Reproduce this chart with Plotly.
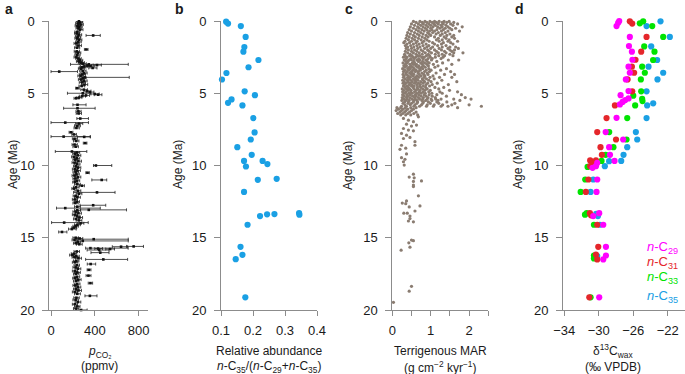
import plotly.graph_objects as go

W, H = 685, 374
FONT = "Liberation Sans, Arial, Helvetica, sans-serif"

# ---------------- panel a : pCO2 (age, value, bar low, bar high) ----------------
a_age = [0.02, 0.1, 0.18, 0.25, 0.33, 0.4, 0.5, 0.6, 0.75, 0.85, 0.95, 1.0, 1.08, 1.2, 1.3, 1.45,
         1.55, 1.7, 1.85, 1.97, 2.1, 2.2, 2.35, 2.5, 2.6, 2.72, 2.8, 2.88, 2.95, 3.0, 3.05, 3.08,
         3.12, 3.15, 3.2, 3.25, 3.3, 3.45, 3.5, 3.6, 3.7, 3.8, 3.9, 3.95, 4.05, 4.15, 4.25, 4.4,
         4.5, 4.65, 4.75, 4.85, 4.92, 5.0, 5.05, 5.1, 5.15, 5.2, 5.3, 5.35, 5.8, 6.04, 6.25, 6.4,
         6.75, 7.03, 7.1, 7.25, 7.4, 7.7, 7.85, 8.0, 8.02, 8.15, 8.3, 8.45, 8.55, 8.7, 9.03, 9.1,
         9.2, 9.3, 9.4, 9.5, 9.6, 9.7, 9.8, 9.9, 10.0, 10.05, 10.15, 10.25, 10.35, 10.45, 10.5,
         10.6, 10.7, 10.8, 10.9, 11.0, 11.05, 11.15, 11.3, 11.4, 11.5, 11.6, 11.75, 11.86, 11.95,
         12.1, 12.2, 12.35, 12.5, 12.6, 12.75, 12.85, 12.95, 13.07, 13.1, 13.2, 13.3, 13.4, 13.5,
         13.6, 13.7, 13.8, 13.95, 14.0, 14.1, 14.2, 14.3, 14.4, 14.6, 15.0, 15.05, 15.1, 15.15,
         15.22, 15.3, 15.38, 15.45, 15.6, 15.62, 15.72, 15.75, 15.78, 15.85, 15.95, 16.03, 16.1,
         16.2, 16.28, 16.35, 16.42, 16.5, 16.6, 16.7, 16.82, 16.9, 17.05, 17.15, 17.22, 17.3,
         17.4, 17.5, 17.62, 17.7, 17.8, 17.9, 18.0, 18.14, 18.2, 18.3, 18.42, 18.55, 18.65,
         18.75, 18.88, 19.02, 19.15, 19.3, 19.45, 19.6, 19.75, 19.9, 20.0]
a_pco2 = [255, 262, 248, 270, 242, 258, 250, 265, 240, 236, 252, 385, 245, 240, 255, 248,
          232, 250, 238, 322, 235, 245, 240, 232, 250, 262, 255, 275, 290, 345, 420, 335,
          360, 300, 285, 380, 275, 290, 75, 300, 285, 270, 310, 290, 275, 300, 285, 305,
          280, 240, 300, 330, 355, 290, 400, 430, 320, 285, 255, 230, 242, 242, 250, 252,
          267, 130, 255, 240, 232, 182, 210, 115, 303, 215, 230, 312, 215, 225, 191, 235,
          220, 245, 210, 235, 222, 250, 215, 238, 410, 228, 245, 218, 240, 225, 333,
          232, 215, 245, 222, 463, 235, 220, 240, 282, 228, 210, 245, 420, 255,
          225, 240, 218, 235, 222, 385, 240, 130, 345, 240, 225, 250, 218, 238,
          260, 228, 255, 120, 270, 240, 225, 210, 190, 100, 225, 262, 390, 215,
          290, 245, 228, 258, 755, 640, 360, 430, 540, 440, 235, 450, 210,
          195, 230, 215, 250, 478, 230, 220, 362, 235, 225, 245, 346, 218,
          240, 228, 342, 235, 220, 248, 230, 360, 238, 222, 245, 228, 250,
          218, 240, 355, 232, 225, 245, 218, 240, 228, 275]
a_low = [230, 240, 225, 250, 220, 235, 228, 245, 218, 215, 228, 320, 222, 218, 232, 225,
         210, 228, 215, 305, 212, 222, 218, 210, 226, 240, 232, 250, 262, 178, 385, 300,
         322, 270, 258, 345, 250, 262, 0, 272, 258, 245, 285, 262, 250, 272, 258, 278,
         255, 225, 272, 300, 320, 150, 365, 395, 290, 258, 230, 210, 200, 115, 228, 230,
         236, 0, 225, 215, 210, 165, 190, 0, 240, 195, 205, 295, 192, 200, 39, 210,
         198, 220, 188, 210, 200, 225, 192, 212, 388, 205, 220, 195, 215, 200, 318,
         208, 192, 220, 200, 373, 210, 198, 215, 260, 205, 190, 218, 206, 230,
         202, 215, 195, 210, 200, 265, 215, 50, 270, 215, 200, 225, 195, 212,
         235, 205, 230, 5, 245, 215, 200, 190, 160, 70, 200, 235, 250, 192,
         236, 220, 205, 232, 690, 560, 316, 400, 500, 330, 210, 365, 185,
         170, 205, 192, 225, 316, 205, 195, 331, 210, 200, 220, 330, 195,
         215, 205, 320, 210, 198, 222, 205, 340, 212, 200, 220, 205, 225,
         195, 215, 310, 208, 200, 220, 195, 215, 205, 230]
a_high = [285, 290, 275, 295, 268, 285, 276, 292, 265, 260, 280, 450, 272, 268, 282, 276,
          258, 278, 262, 338, 260, 272, 266, 258, 276, 290, 285, 305, 322, 706, 460, 372,
          400, 335, 318, 420, 305, 320, 242, 330, 315, 300, 715, 320, 305, 330, 315, 335,
          308, 258, 332, 365, 392, 360, 440, 465, 352, 315, 282, 255, 320, 403, 275, 278,
          342, 342, 290, 268, 258, 200, 232, 358, 360, 240, 255, 328, 240, 250, 327, 262,
          245, 272, 235, 262, 248, 278, 240, 265, 555, 255, 272, 242, 268, 250, 350,
          258, 240, 272, 248, 509, 262, 245, 268, 305, 255, 235, 272, 585, 282,
          250, 268, 242, 260, 248, 500, 268, 450, 690, 268, 250, 278, 242, 265,
          288, 255, 282, 340, 300, 268, 250, 235, 230, 145, 250, 290, 706, 240,
          706, 270, 252, 285, 845, 700, 705, 470, 580, 530, 260, 530, 235,
          220, 258, 240, 278, 700, 255, 245, 408, 260, 250, 272, 365, 242,
          268, 255, 365, 262, 245, 275, 255, 380, 265, 248, 272, 255, 278,
          242, 268, 420, 258, 250, 272, 242, 265, 255, 330]

# ---------------- panel b : relative abundance ----------------
b_age = [0.05, 0.18, 0.35, 1.1, 1.8, 2.12, 2.7, 3.2, 3.6, 4.05, 4.87, 5.13, 5.43, 5.66, 5.84,
         6.72, 7.71, 8.2, 8.73, 9.26, 9.68, 9.68, 9.9, 10.07, 10.99, 10.92, 11.83, 13.5, 13.38,
         13.36, 13.29, 13.4, 14.1, 15.63, 16.18, 16.48, 19.12]
b_ratio = [0.116, 0.122, 0.162, 0.177, 0.173, 0.170, 0.217, 0.186, 0.117, 0.103, 0.174, 0.206,
           0.133, 0.122, 0.167, 0.201, 0.205, 0.193, 0.151, 0.196, 0.172, 0.230, 0.245, 0.178,
           0.215, 0.274, 0.172, 0.222, 0.244, 0.267, 0.344, 0.345, 0.183, 0.161, 0.167, 0.146,
           0.176]

# ---------------- panel c : terrigenous MAR (rows of samples at similar age) ----------------
c_row_age = [0.03, 0.1, 0.2, 0.3, 0.4, 0.5, 0.6, 0.7, 0.8, 0.9, 1.0, 1.1, 1.2, 1.3, 1.4, 1.5,
             1.6, 1.7, 1.8, 1.9, 2.0, 2.1, 2.2, 2.3, 2.4, 2.5, 2.6, 2.7, 2.8, 2.9, 3.0, 3.1,
             3.2, 3.3, 3.4, 3.5, 3.6, 3.7, 3.8, 3.9, 4.0, 4.1, 4.2, 4.3, 4.4, 4.5, 4.6, 4.7,
             4.8, 4.9, 5.0, 5.1, 5.2, 5.3, 5.4, 5.5, 5.6, 5.7, 5.8, 5.9, 6.0, 6.1, 6.2, 6.3,
             6.4, 6.5]
c_row_mar = [
    [0.55, 0.72, 0.85, 0.98, 1.1, 1.22, 1.35, 1.48],
    [0.62, 0.78, 0.9, 1.04, 1.15, 1.3, 1.42, 1.6],
    [0.5, 0.68, 0.81, 0.95, 1.08, 1.2, 1.33, 1.52, 1.7],
    [0.58, 0.74, 0.88, 1.0, 1.12, 1.27, 1.4, 1.58],
    [0.47, 0.66, 0.8, 0.93, 1.06, 1.18, 1.3, 1.45, 1.82],
    [0.55, 0.7, 0.86, 1.0, 1.24, 1.38, 1.5, 1.65],
    [0.44, 0.62, 0.77, 0.9, 1.03, 1.16, 1.33, 1.55],
    [0.5, 0.68, 0.83, 0.97, 1.1, 1.28, 1.45, 1.75],
    [0.4, 0.58, 0.74, 0.92, 1.05, 1.2, 1.38],
    [0.47, 0.65, 0.8, 0.96, 1.14, 1.3, 1.5],
    [0.38, 0.55, 0.7, 0.88, 1.0, 1.25, 1.42, 1.6],
    [0.44, 0.6, 0.78, 0.93, 1.1, 1.35, 1.55],
    [0.36, 0.52, 0.68, 0.85, 1.2, 1.4, 1.62],
    [0.42, 0.58, 0.75, 0.9, 1.15, 1.3, 1.48],
    [0.33, 0.5, 0.65, 0.82, 0.96, 1.22, 1.45, 1.7],
    [0.3, 0.45, 0.62, 0.78, 1.05, 1.33, 1.52],
    [0.38, 0.55, 0.7, 0.88, 1.1, 1.28, 1.58],
    [0.34, 0.48, 0.64, 0.8, 0.95, 1.18, 1.4],
    [0.4, 0.56, 0.72, 0.9, 1.05, 1.3, 1.5, 1.65],
    [0.36, 0.5, 0.66, 0.84, 1.0, 1.22, 1.45, 1.72],
    [0.42, 0.58, 0.75, 0.92, 1.1, 1.28, 1.5, 1.62],
    [0.34, 0.5, 0.64, 0.8, 0.96, 1.15, 1.36, 1.55],
    [0.4, 0.55, 0.7, 0.86, 1.02, 1.2, 1.4, 1.6, 1.84],
    [0.32, 0.47, 0.62, 0.78, 0.94, 1.12, 1.3, 1.5],
    [0.33, 0.45, 0.51, 0.66, 0.71, 0.89, 0.97, 1.21, 1.36, 1.58],
    [0.29, 0.38, 0.54, 0.61, 0.77, 0.83, 0.99, 1.12, 1.32],
    [0.36, 0.48, 0.57, 0.69, 0.8, 0.93, 1.04, 1.27],
    [0.31, 0.43, 0.5, 0.64, 0.72, 0.87, 1.02, 1.46, 1.73],
    [0.35, 0.41, 0.56, 0.68, 0.79, 0.91, 1.16],
    [0.28, 0.39, 0.52, 0.58, 0.74, 0.84, 0.96, 1.31],
    [0.34, 0.46, 0.55, 0.63, 0.78, 0.9, 1.07, 1.55],
    [0.3, 0.37, 0.49, 0.61, 0.69, 0.81, 0.94, 1.19],
    [0.33, 0.44, 0.53, 0.66, 0.76, 0.86, 1.11],
    [0.27, 0.4, 0.47, 0.57, 0.71, 0.79, 0.95, 1.41],
    [0.32, 0.43, 0.54, 0.62, 0.73, 0.88, 1.01, 1.26],
    [0.29, 0.38, 0.5, 0.6, 0.68, 0.84, 0.97, 1.52],
    [0.35, 0.45, 0.52, 0.67, 0.77, 0.91, 1.14],
    [0.28, 0.37, 0.49, 0.56, 0.7, 0.82, 0.93, 1.36, 1.62],
    [0.31, 0.42, 0.53, 0.64, 0.75, 0.85, 1.06],
    [0.29, 0.4, 0.47, 0.6, 0.69, 0.83, 0.98, 1.23, 1.55],
    [0.34, 0.43, 0.55, 0.63, 0.78, 0.89, 1.09],
    [0.27, 0.39, 0.48, 0.59, 0.67, 0.81, 0.95, 1.29],
    [0.31, 0.41, 0.52, 0.61, 0.74, 0.84, 1.01, 1.68],
    [0.28, 0.36, 0.46, 0.58, 0.68, 0.8, 0.92, 1.17],
    [0.32, 0.44, 0.51, 0.64, 0.73, 0.88, 1.04, 1.46],
    [0.29, 0.38, 0.5, 0.57, 0.71, 0.81, 0.97],
    [0.33, 0.42, 0.54, 0.65, 0.74, 0.87, 1.11, 1.34],
    [0.26, 0.37, 0.45, 0.57, 0.66, 0.79, 0.91, 1.21],
    [0.3, 0.41, 0.49, 0.62, 0.72, 0.85, 0.99, 1.49],
    [0.27, 0.36, 0.48, 0.58, 0.7, 0.8, 0.95, 1.24, 1.7],
    [0.32, 0.43, 0.52, 0.64, 0.75, 0.86, 1.03, 1.3],
    [0.27, 0.38, 0.47, 0.6, 0.69, 0.83, 0.96, 1.16, 1.8],
    [0.31, 0.4, 0.53, 0.62, 0.75, 0.88, 1.04, 1.41],
    [0.26, 0.37, 0.46, 0.58, 0.68, 0.81, 0.93, 1.12, 1.9],
    [0.3, 0.39, 0.51, 0.6, 0.71, 0.79, 0.91, 1.01, 1.13, 1.27, 1.6, 2.05],
    [0.25, 0.35, 0.44, 0.56, 0.64, 0.77, 0.87, 1.03, 1.19, 1.76],
    [0.32, 0.42, 0.55, 0.66, 0.81, 0.94, 1.16, 1.42],
    [0.28, 0.41, 0.5, 0.64, 0.79, 0.99, 1.21, 1.63],
    [0.33, 0.47, 0.59, 0.76, 0.91, 1.09, 1.31, 1.55, 2.0],
    [0.24, 0.37, 0.56, 0.71, 0.89, 1.07, 1.27, 1.45, 2.32],
    [0.12, 0.22, 0.34, 0.48, 0.62, 1.7],
    [0.16, 0.28, 0.4, 0.55],
    [0.1, 0.24, 0.36, 0.5],
    [0.2, 0.32, 0.45, 0.62],
    [0.14, 0.27, 0.4, 0.56],
    [0.22, 0.35, 0.48, 0.66],
]
c_sparse_age = [6.63, 6.74, 6.86, 6.97, 7.14, 7.2, 7.27, 7.44, 7.55, 7.6, 7.78, 7.9, 8.06, 8.13,
                8.35, 8.6, 8.6, 8.8, 8.88, 9.2, 9.46, 9.57, 9.74, 9.97, 10.6, 10.8, 10.85,
                11.07, 11.1, 11.35, 11.46, 12.1, 12.45, 12.6, 12.64, 12.8, 12.87, 13.15, 13.3,
                13.3, 13.5, 13.67, 13.84, 13.9, 15.16, 15.2, 15.35, 15.65, 15.86, 18.36, 18.7,
                19.47]
c_sparse_mar = [0.68, 0.29, 0.42, 0.55, 0.37, 0.63, 0.5, 0.29, 0.42, 0.55, 0.24, 0.37, 0.46,
                0.29, 0.59, 0.59, 0.24, 0.35, 0.2, 0.37, 0.24, 0.33, 0.29, 0.31, 0.55, 0.44,
                0.57, 0.76, 0.55, 0.55, 0.55, 0.68, 0.37, 0.26, 0.35, 0.72, 0.44, 0.59, 0.3,
                0.39, 0.46, 0.46, 0.42, 0.55, 0.5, 0.55, 0.43, 0.46, 0.23, 0.5, 0.44, 0.03]

# ---------------- panel d : delta13C wax ----------------
d_age_c29 = [0.0, 0.12, 0.35, 1.1, 1.73, 2.12, 2.68, 3.16, 3.58, 4.04, 4.85, 5.13, 5.77, 5.6,
             5.47, 5.36, 6.7, 7.69, 8.2, 8.73, 9.26, 9.68, 9.82, 10.05, 10.16, 10.97, 11.83,
             13.5, 13.3, 14.1, 15.63, 16.23, 16.5, 19.12]
d_val_c29 = [-27.63, -27.75, -27.94, -26.4, -26.5, -26.16, -26.1, -26.55, -26.4, -26.86, -26.55,
             -27.47, -27.55, -27.24, -26.93, -26.55, -27.94, -29.2, -27.17, -28.8, -28.7, -28.17,
             -30.18, -30.33, -30.72, -30.18, -30.26, -30.64, -29.95, -29.48, -29.17, -29.17,
             -29.48, -29.95]
d_age_c31 = [0.02, 0.18, 1.1, 2.12, 2.68, 3.16, 3.58, 4.04, 4.87, 5.84, 6.72, 7.69, 8.2, 8.73,
             9.26, 9.65, 9.65, 9.86, 10.05, 10.97, 11.83, 13.3, 13.45, 14.1, 15.63, 16.16, 16.5,
             19.12]
d_val_c31 = [-26.4, -26.12, -24.46, -25.08, -25.74, -26.16, -25.9, -26.66, -26.12, -28.13, -29.1,
             -30.18, -28.0, -29.8, -29.64, -31.0, -30.33, -30.72, -31.0, -31.2, -31.5, -31.03,
             -30.9, -30.18, -30.06, -30.33, -30.18, -31.1]
d_age_c33 = [0.16, 0.02, 0.35, 1.1, 1.76, 2.12, 2.7, 3.16, 3.58, 4.04, 4.87, 5.17, 5.38, 5.54,
             5.84, 6.72, 7.69, 8.2, 8.73, 9.26, 9.68, 10.1, 10.97, 11.83, 13.4, 13.3, 14.1,
             16.23, 16.43, 19.12]
d_val_c33 = [-25.24, -24.85, -23.8, -22.53, -24.73, -23.54, -23.7, -24.97, -24.66, -25.12, -25.08,
             -26.0, -24.97, -24.93, -25.78, -26.7, -28.79, -26.78, -28.3, -29.2, -29.68, -31.3,
             -31.57, -32.1, -31.6, -31.4, -30.56, -30.56, -30.56, -30.95]
d_age_c35 = [0.02, 0.35, 1.1, 1.76, 2.7, 3.16, 3.58, 4.04, 4.87, 5.7, 5.84, 6.72, 7.69, 8.2,
             8.73, 9.26, 9.68, 9.7, 10.05, 10.97, 11.83, 13.35, 13.5, 14.1, 16.27]
d_val_c35 = [-22.84, -24.46, -21.76, -23.92, -23.23, -24.23, -22.53, -23.19, -24.46, -23.69,
             -24.39, -24.46, -25.7, -25.54, -26.7, -27.13, -27.4, -28.8, -29.3, -30.64, -30.95,
             -30.3, -30.1, -29.87, -30.18]

# ---------------- ticks / labels ----------------
age_ticks = [0, 5, 10, 15, 20]
a_ticks = [0, 400, 800]
b_ticks = [0.1, 0.2, 0.3, 0.4]
c_ticks = [0, 0.5, 1, 1.5, 2, 2.5]
c_ticklabels = ["0", "", "1", "", "2", ""]
d_ticks = [-34, -30, -26, -22]
d_ticklabels = ["\u221234", "\u221230", "\u221226", "\u221222"]

C_BLUE = "#1aa0e4"
C_BROWN = "#8a7c71"
C_MAG = "#ff00ff"
C_RED = "#e5262b"
C_GREEN = "#00e400"
AXC = "#8c8c8c"
TXT = "#1a1a1a"

fig = go.Figure()

c_flat_age = []
c_flat_mar = []
for age, row in zip(c_row_age, c_row_mar):
    for v in row:
        c_flat_age.append(age)
        c_flat_mar.append(v)
c_flat_age += c_sparse_age
c_flat_mar += c_sparse_mar

fig.add_trace(go.Scatter(
    x=a_pco2, y=a_age, mode="markers", xaxis="x", yaxis="y",
    marker=dict(symbol="square", size=2.6, color="#111"),
    error_x=dict(type="data", symmetric=False,
                 array=[h - p for h, p in zip(a_high, a_pco2)],
                 arrayminus=[p - l for p, l in zip(a_pco2, a_low)],
                 color="#222", thickness=0.8, width=1.5),
    cliponaxis=False, showlegend=False))

fig.add_trace(go.Scatter(
    x=b_ratio, y=b_age, mode="markers", xaxis="x2", yaxis="y2",
    marker=dict(size=6.2, color=C_BLUE), cliponaxis=False, showlegend=False))

fig.add_trace(go.Scatter(
    x=c_flat_mar, y=c_flat_age, mode="markers", xaxis="x3", yaxis="y3",
    marker=dict(size=3.2, color=C_BROWN), cliponaxis=False, showlegend=False))

for ages, vals, col in [(d_age_c35, d_val_c35, C_BLUE), (d_age_c33, d_val_c33, C_GREEN),
                        (d_age_c31, d_val_c31, C_RED), (d_age_c29, d_val_c29, C_MAG)]:
    fig.add_trace(go.Scatter(
        x=vals, y=ages, mode="markers", xaxis="x4", yaxis="y4",
        marker=dict(size=6.2, color=col), cliponaxis=False, showlegend=False))

y_top, y_bot = 21, 310
ydom = [1 - y_bot / H, 1 - y_top / H]


def xaxis(dom, rng, tv, tt=None):
    d = dict(domain=[dom[0] / W, dom[1] / W], range=rng, tickvals=tv,
             showline=True, linecolor=AXC, linewidth=1, ticks="outside", ticklen=5,
             tickcolor=AXC, tickwidth=1, showgrid=False, zeroline=False,
             tickfont=dict(family=FONT, size=13, color=TXT), ticklabelstandoff=3)
    if tt is not None:
        d["ticktext"] = tt
    return d


def yaxis(anchor):
    return dict(domain=ydom, range=[20, 0], tickvals=age_ticks, anchor=anchor,
                showline=True, linecolor=AXC, linewidth=1, ticks="outside", ticklen=6,
                tickcolor=AXC, tickwidth=1, showgrid=False, zeroline=False,
                tickfont=dict(family=FONT, size=13, color=TXT), ticklabelstandoff=5)


fig.update_layout(
    width=W, height=H, margin=dict(l=0, r=0, t=0, b=0, pad=0, autoexpand=False),
    paper_bgcolor="white", plot_bgcolor="white",
    font=dict(family=FONT, size=12, color=TXT),
    xaxis=dict(xaxis((49.4, 148.4), [-15, 890], a_ticks), anchor="y"),
    yaxis=yaxis("x"),
    xaxis2=dict(xaxis((221, 317), [0.1, 0.4], b_ticks), anchor="y2"),
    yaxis2=yaxis("x2"),
    xaxis3=dict(xaxis((392.3, 488.3), [0, 2.5], c_ticks, c_ticklabels), anchor="y3"),
    yaxis3=yaxis("x3"),
    xaxis4=dict(xaxis((563, 685), [-34.15, -20], d_ticks, d_ticklabels), anchor="y4"),
    yaxis4=yaxis("x4"),
)

ann = []


def txt(x, y, text, size=12, color=TXT, xanchor="center", yanchor="middle", angle=0):
    ann.append(dict(x=x / W, y=1 - y / H, xref="paper", yref="paper", text=text,
                    showarrow=False, xanchor=xanchor, yanchor=yanchor, textangle=angle,
                    font=dict(family=FONT, size=size, color=color)))


for lx, letter in [(3, "a"), (173, "b"), (343, "c"), (513, "d")]:
    txt(lx, 9, "<b>%s</b>" % letter, size=14, xanchor="left")

for ax in [13, 178, 348, 518]:
    txt(ax, 165, "Age (Ma)", size=12, angle=-90)

txt(100, 352, "<i>p</i><sub>CO\u2082</sub>", size=12)
txt(100, 366, "(ppmv)", size=12)
txt(269, 351, "Relative abundance", size=12)
txt(269, 367, "<i>n</i>-C<sub>35</sub>/(<i>n</i>-C<sub>29</sub>+<i>n</i>-C<sub>35</sub>)", size=12)
txt(440, 351, "Terrigenous MAR", size=12)
txt(440, 367, "(g cm<sup>\u22122</sup> kyr<sup>\u22121</sup>)", size=12)
txt(613, 351, "\u03b4<sup>13</sup>C<sub>wax</sub>", size=12)
txt(613, 367, "(\u2030 VPDB)", size=12)

for yy, lab, col in [(247, "29", C_MAG), (262, "31", C_RED), (277, "33", C_GREEN), (296, "35", C_BLUE)]:
    txt(680, yy, "<i>n</i>-C<sub>%s</sub>" % lab, size=13, color=col, xanchor="right")

fig.update_layout(annotations=ann)
fig.write_html("out.html", config={"displayModeBar": False, "staticPlot": True},
               post_script="document.body.style.margin='0px';document.body.style.overflow='hidden';")
